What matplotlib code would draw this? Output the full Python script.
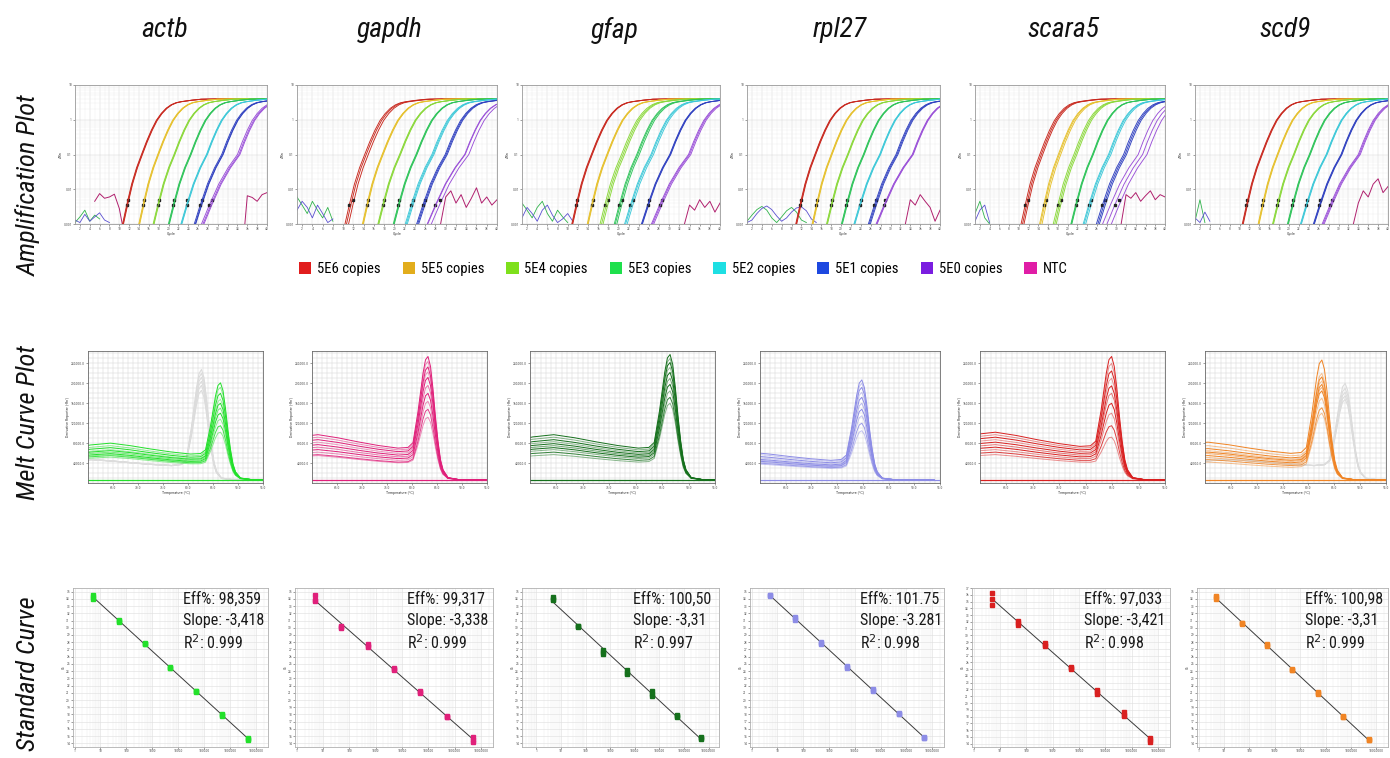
import numpy as np
import matplotlib
matplotlib.use('Agg')
import matplotlib.pyplot as plt
from matplotlib import font_manager
from matplotlib.patches import Patch
from matplotlib.ticker import FixedLocator, NullFormatter, LogLocator, MultipleLocator, FuncFormatter

nan = np.nan

# ---------------- data ----------------
GENES = ['actb', 'gapdh', 'gfap', 'rpl27', 'scara5', 'scd9']
ROW_LABELS = ['Amplification Plot', 'Melt Curve Plot', 'Standard Curve']
LEGEND_LABELS = ['5E6 copies', '5E5 copies', '5E4 copies', '5E3 copies',
                 '5E2 copies', '5E1 copies', '5E0 copies', 'NTC']
LEGEND_COLORS = ['#e11d1d', '#e2ad1c', '#7ee01c', '#1ee04c',
                 '#1edfe3', '#1d48e0', '#7a1de0', '#e01da6']
CURVE_COLORS = ['#c8281e', '#e6c02c', '#8ad83a', '#2fc45a',
                '#3cc8d8', '#2f40c0', '#9a50d8']
GENE_COLORS = ['#22e02a', '#e0207a', '#15701c', '#8c8ce6', '#d92020', '#f08424']
QUANTITIES = [5e0, 5e1, 5e2, 5e3, 5e4, 5e5, 5e6]

# Standard-curve Ct values, rows 5E0 ... 5E6, three replicates each
CT_ACTB = [[34.5, 34.0, 34.3], [31.1, 30.8, 31.0], [27.9, 27.7, 27.8], [24.6, 24.4, 24.5],
           [21.3, 21.1, 21.2], [18.0, 17.8, 17.9], [14.7, 14.5, 14.6]]
CT_GAPDH = [[34.5, 33.7, 33.8], [30.3, 29.9, 30.1], [27.7, 27.3, 27.5], [24.4, 24.2, 24.3],
            [21.2, 21.0, 21.1], [17.8, 17.6, 17.7], [14.9, 14.2, 14.5]]
CT_GFAP = [[34.25, 33.8, 34.0], [30.3, 30.1, 30.2], [26.9, 26.4, 26.6], [24.1, 23.6, 23.8],
           [21.2, 20.6, 20.9], [17.9, 17.7, 17.8], [14.85, 14.65, 14.75]]
CT_RPL27 = [[34.6, 34.4, 34.5], [31.5, 31.1, 31.3], [28.0, 27.8, 27.9], [24.7, 24.5, 24.6],
            [21.5, 21.3, 21.4], [18.2, 18.0, 18.1], [14.9, 14.7, 14.8]]
CT_SCARA5 = [[36.3, 35.4, 34.5], [32.1, 31.5, 31.8], [28.9, 28.4, 28.6], [25.3, 25.1, 25.2],
             [21.9, 21.3, 21.6], [18.6, 18.1, 18.3], [14.9, 14.3, 14.6]]
CT_SCD9 = [[34.4, 34.0, 34.2], [30.7, 30.5, 30.6], [27.7, 27.5, 27.6], [24.3, 24.1, 24.2],
           [21.1, 20.9, 21.0], [17.8, 17.6, 17.7], [14.6, 14.4, 14.5]]
EFF = ['98,359', '99,317', '100,50', '101.75', '97,033', '100,98']
SLOPE = ['-3,418', '-3,338', '-3,31', '-3.281', '-3,421', '-3,31']
R2 = ['0.999', '0.999', '0.997', '0.998', '0.998', '0.999']

# Amplification curve shape: cycle offset from Ct vs log10(dRn)
AMP_DC = [-5, -4, -3, -2, -1, 0, 1, 2, 3, 4, 5, 6, 7, 8, 10, 12, 16, 20, 28]
AMP_LOG = [-4.0, -3.1, -2.45, -1.85, -1.38, -1.0, -0.63, -0.3, -0.02, 0.18, 0.33,
           0.43, 0.49, 0.52, 0.56, 0.59, 0.60, 0.61, 0.61]
# how much wider the pre-threshold rise is for each dilution (5E6 ... 5E0)
AMP_RISE_STRETCH = [1.0, 1.0, 1.1, 1.15, 1.35, 1.45, 1.9]

# NTC traces (cycle, dRn)
NTC_ACTB_CYC = [5, 6, 7, 8, 9, 10, 10.6, nan, 35.5, 36, 37, 38, 39, 40]
NTC_ACTB_VAL = [0.0045, 0.0075, 0.0055, 0.006, 0.0072, 0.0028, 0.001, nan,
                0.001, 0.0065, 0.0058, 0.0045, 0.007, 0.008]
NTC_GAPDH_CYC = [29, 30, 31, 32, 33, 34, 35, 36, 37, 38, 39, 40]
NTC_GAPDH_VAL = [0.001, 0.006, 0.009, 0.004, 0.007, 0.003, 0.0055, 0.011, 0.004, 0.006, 0.0035, 0.005]
NTC_GFAP_CYC = [33, 34, 35, 36, 37, 38, 39, 40]
NTC_GFAP_VAL = [0.001, 0.0035, 0.0025, 0.005, 0.003, 0.0045, 0.0022, 0.004]
NTC_RPL27_CYC = [33, 34, 35, 36, 37, 38, 39, 40]
NTC_RPL27_VAL = [0.001, 0.005, 0.0035, 0.007, 0.0045, 0.003, 0.0012, 0.0025]
NTC_SCARA5_CYC = [31, 32, 33, 34, 35, 36, 37, 38, 39, 40]
NTC_SCARA5_VAL = [0.001, 0.007, 0.0055, 0.008, 0.0045, 0.0065, 0.009, 0.005, 0.007, 0.006]
NTC_SCD9_CYC = [33, 34, 35, 36, 37, 38, 39, 40]
NTC_SCD9_VAL = [0.001, 0.004, 0.009, 0.006, 0.014, 0.02, 0.008, 0.012]

# early-cycle baseline noise (dRn at cycles 1, 2, 3, ...)
NOISE_ACTB_A = [0.0011, 0.0016, 0.0025, 0.0012, 0.0018, 0.0014]
NOISE_ACTB_B = [0.0013, 0.0011, 0.0019, 0.0012, 0.0016, 0.0021, 0.0013, 0.0011]
NOISE_GAPDH_A = [0.006, 0.0035, 0.002, 0.0045, 0.0025, 0.0015, 0.003, 0.0012]
NOISE_GAPDH_B = [0.0025, 0.0045, 0.003, 0.0015, 0.0035, 0.002, 0.0011, 0.0014]
NOISE_GFAP_A = [0.004, 0.0025, 0.0015, 0.003, 0.0045, 0.002, 0.0012, 0.0025, 0.0016, 0.0011]
NOISE_GFAP_B = [0.0015, 0.003, 0.002, 0.0012, 0.0025, 0.0035, 0.0018, 0.0011, 0.0014, 0.002, 0.0012]
NOISE_RPL27_A = [0.0012, 0.0018, 0.0026, 0.0032, 0.0025, 0.0015, 0.0011, 0.0016, 0.0024,
                 0.003, 0.0022, 0.0013, 0.0011]
NOISE_RPL27_B = [0.0011, 0.0013, 0.002, 0.0028, 0.0033, 0.0026, 0.0017, 0.0012, 0.0015,
                 0.0022, 0.0029, 0.0031, 0.0024, 0.0014, 0.0011]
NOISE_SCARA5_A = [0.002, 0.0045, 0.0015, 0.001]
NOISE_SCARA5_B = [0.0012, 0.0025, 0.0035, 0.0011]
NOISE_SCD9_A = [0.0012, 0.005, 0.0011]
NOISE_SCD9_B = [0.0015, 0.0011, 0.0022, 0.0012]

# Melt curve: shapes vs temperature offset from the peak (read from actb)
MELT_DT = [-30, -26, -22, -18, -14, -10, -6, -4, -3, -2, -1.5, -1, -0.5, 0,
           0.5, 1, 1.5, 2, 2.5, 3, 4, 6, 14]
MELT_PEAK_SHAPE = [0, 0, 0, 0, 0, 0, 0, 0.02, 0.08, 0.4, 0.6, 0.8, 0.95, 1.0,
                   0.93, 0.74, 0.5, 0.3, 0.15, 0.07, 0.01, 0, 0]
MELT_BASE_SHAPE = [0.85, 0.95, 1.0, 0.93, 0.84, 0.76, 0.7, 0.67, 0.64, 0.6, 0.57, 0.54,
                   0.5, 0.46, 0.4, 0.33, 0.25, 0.17, 0.1, 0.06, 0.02, 0.0, 0.0]
MELT_FLOOR = 7000
MELT_TPEAK = [86.5, 83.2, 86.5, 79.8, 84.9, 82.6]
MELT_PEAK_ACTB = [201e3, 192e3, 180e3, 168e3, 160e3, 150e3, 140e3, 128e3, 115e3, 102e3]
MELT_BASE_ACTB = [73e3, 68e3, 64e3, 60e3, 58e3, 55e3, 52e3, 50e3, 48e3, 45e3]
MELT_PEAK_GAPDH = [254e3, 244e3, 233e3, 223e3, 212e3, 196e3, 180e3, 164e3, 148e3, 132e3]
MELT_BASE_GAPDH = [90e3, 85e3, 80e3, 75e3, 70e3, 65e3, 60e3, 55e3, 50e3, 48e3]
MELT_PEAK_GFAP = [258e3, 250e3, 242e3, 232e3, 222e3, 210e3, 198e3, 185e3, 172e3, 160e3]
MELT_BASE_GFAP = [90e3, 85e3, 80e3, 76e3, 72e3, 68e3, 64e3, 60e3, 55e3, 50e3]
MELT_PEAK_RPL27 = [207e3, 200e3, 192e3, 182e3, 172e3, 160e3, 148e3, 135e3, 120e3, 105e3]
MELT_BASE_RPL27 = [55e3, 52e3, 48e3, 45e3, 42e3, 40e3, 38e3, 36e3, 34e3, 32e3]
MELT_PEAK_SCARA5 = [254e3, 240e3, 225e3, 210e3, 195e3, 180e3, 160e3, 140e3, 115e3, 92e3]
MELT_BASE_SCARA5 = [95e3, 90e3, 85e3, 80e3, 75e3, 70e3, 65e3, 60e3, 55e3, 50e3]
MELT_PEAK_SCD9 = [247e3, 220e3, 213e3, 205e3, 198e3, 192e3, 185e3, 170e3, 151e3, 140e3]
MELT_BASE_SCD9 = [75e3, 68e3, 62e3, 58e3, 55e3, 52e3, 48e3, 44e3, 40e3, 35e3]
MELT_ALPHA = [1, 0.5, 1, 0.45, 1, 0.6, 1, 0.5, 0.85, 0.5]
# reference (gray) melt curves
GRAY_TPEAK = [82.7, None, None, None, None, 87.1]
GRAY_PEAK_ACTB = [228e3, 220e3, 212e3, 204e3, 196e3, 186e3]
GRAY_PEAK_SCD9 = [200e3, 190e3, 182e3, 175e3, 168e3]

CT = [CT_ACTB, CT_GAPDH, CT_GFAP, CT_RPL27, CT_SCARA5, CT_SCD9]
NTC_CYC = [NTC_ACTB_CYC, NTC_GAPDH_CYC, NTC_GFAP_CYC, NTC_RPL27_CYC, NTC_SCARA5_CYC, NTC_SCD9_CYC]
NTC_VAL = [NTC_ACTB_VAL, NTC_GAPDH_VAL, NTC_GFAP_VAL, NTC_RPL27_VAL, NTC_SCARA5_VAL, NTC_SCD9_VAL]
NOISE_A = [NOISE_ACTB_A, NOISE_GAPDH_A, NOISE_GFAP_A, NOISE_RPL27_A, NOISE_SCARA5_A, NOISE_SCD9_A]
NOISE_B = [NOISE_ACTB_B, NOISE_GAPDH_B, NOISE_GFAP_B, NOISE_RPL27_B, NOISE_SCARA5_B, NOISE_SCD9_B]
MELT_PEAK = [MELT_PEAK_ACTB, MELT_PEAK_GAPDH, MELT_PEAK_GFAP, MELT_PEAK_RPL27, MELT_PEAK_SCARA5, MELT_PEAK_SCD9]
MELT_BASE = [MELT_BASE_ACTB, MELT_BASE_GAPDH, MELT_BASE_GFAP, MELT_BASE_RPL27, MELT_BASE_SCARA5, MELT_BASE_SCD9]
GRAY_PEAK = [GRAY_PEAK_ACTB, None, None, None, None, GRAY_PEAK_SCD9]

# ---------------- layout ----------------
W, H = 1390, 758
AMP_X = [(75, 267), (297, 497), (522, 720), (747, 940), (975, 1165), (1195, 1388)]
AMP_Y = (85, 224)
MELT_X = [(88, 263), (312, 487), (530, 715), (760, 940), (980, 1165), (1205, 1386)]
MELT_Y = (351, 483)
STD_X = [(73, 268), (295, 493), (522, 719), (750, 944), (972, 1170), (1197, 1388)]
STD_Y = (588, 747)
STD_XLIM = [(-0.06, 7.46), (-0.06, 7.46), (-0.58, 7.42), (-0.06, 7.46), (-0.06, 7.46), (-0.06, 7.46)]
STD_YLIM = [(13.5, 35.5), (13.5, 35.5), (13.5, 35.5), (13.5, 35.5), (13.5, 37.0), (13.5, 35.5)]
COL_CENTER = [165, 390, 615, 840, 1063, 1285]
ROW_CENTER = [185, 422, 674]

avail = {f.name for f in font_manager.fontManager.ttflist}
NARROW = 'DejaVu Sans'
for cand in ['Liberation Sans Narrow', 'Roboto Condensed', 'Open Sans Condensed', 'Roboto']:
    if cand in avail:
        NARROW = cand
        break
plt.rcParams['font.family'] = [NARROW, 'DejaVu Sans']

fig = plt.figure(figsize=(W / 100, H / 100), dpi=100)
fig.patch.set_facecolor('white')


def px_axes(x, y):
    x0, x1 = x
    y0, y1 = y
    return fig.add_axes([x0 / W, 1 - y1 / H, (x1 - x0) / W, (y1 - y0) / H])


TICK_FS = 2.6


def style(ax, spine='#9a9a9a'):
    for s in ax.spines.values():
        s.set_color(spine)
        s.set_linewidth(0.6)
    ax.tick_params(axis='both', which='both', labelsize=TICK_FS, length=1.2, width=0.4,
                   pad=1, colors='#555555')
    ax.tick_params(which='minor', length=0)


# column titles / row labels
for gi, g in enumerate(GENES):
    fig.text(COL_CENTER[gi] / W, 1 - 30 / H, g, ha='center', va='center',
             fontsize=20, style='italic', color='#111111')
for ri, lab in enumerate(ROW_LABELS):
    fig.text(28 / W, 1 - ROW_CENTER[ri] / H, lab, ha='center', va='center', rotation=90,
             fontsize=19, style='italic', color='#111111')

# ---------------- amplification row ----------------
mark_idx = AMP_DC.index(-3)
dc = np.array(AMP_DC, dtype=float)
for gi, g in enumerate(GENES):
    ax = px_axes(AMP_X[gi], AMP_Y)
    ax.set_yscale('log')
    ax.set_xlim(1, 40)
    ax.set_ylim(0.001, 10)
    ax.xaxis.set_major_locator(MultipleLocator(2))
    ax.xaxis.set_minor_locator(MultipleLocator(1))
    ax.yaxis.set_major_locator(FixedLocator([0.001, 0.01, 0.1, 1, 10]))
    ax.set_yticklabels(['0.001', '0.01', '0.1', '1', '10'])
    ax.yaxis.set_minor_locator(LogLocator(base=10, subs=np.arange(2, 10) * 1.0))
    ax.yaxis.set_minor_formatter(NullFormatter())
    ax.grid(True, which='minor', color='#ececec', lw=0.3)
    ax.grid(True, which='major', color='#d6d6d6', lw=0.35)
    ax.set_axisbelow(True)
    style(ax)
    ax.set_xlabel('Cycle', fontsize=3, labelpad=0.5, color='#444444')
    ax.set_ylabel('ΔRn', fontsize=3, labelpad=0.5, color='#444444')
    # baseline noise
    ax.plot(np.arange(1, len(NOISE_A[gi]) + 1), NOISE_A[gi], color='#2fb34a', lw=0.6)
    ax.plot(np.arange(1, len(NOISE_B[gi]) + 1), NOISE_B[gi], color='#5a4fd0', lw=0.6)
    ax.plot(NTC_CYC[gi], NTC_VAL[gi], color='#b0206e', lw=0.7)
    cts = CT[gi]
    for di in range(7):
        row = cts[6 - di]
        s = AMP_RISE_STRETCH[di]
        for r, c in enumerate(row):
            xs = c + np.where(dc < 0, dc * s, dc)
            ys = 10 ** np.array(AMP_LOG)
            ax.plot(xs, ys, color=CURVE_COLORS[di], lw=0.65)
            if r < 2:
                ax.plot(xs[mark_idx], ys[mark_idx] * (1.35 if r == 0 else 1.0), 's',
                        ms=1.5, color='#222222')

# legend
handles = [Patch(facecolor=c, edgecolor='none') for c in LEGEND_COLORS]
fig.legend(handles, LEGEND_LABELS, loc='center', bbox_to_anchor=(683 / W, 1 - 269 / H),
           ncol=8, frameon=False, fontsize=10.5, handlelength=0.85, handleheight=0.85,
           handletextpad=0.4, columnspacing=1.5, borderpad=0)

# ---------------- melt row ----------------
dt = np.array(MELT_DT)
pshape = np.array(MELT_PEAK_SHAPE)
bshape = np.array(MELT_BASE_SHAPE)
base_at_peak = MELT_BASE_SHAPE[MELT_DT.index(0)]
for gi, g in enumerate(GENES):
    ax = px_axes(MELT_X[gi], MELT_Y)
    ax.set_xlim(60, 95)
    ax.set_ylim(0, 265000)
    ax.xaxis.set_major_locator(FixedLocator([65, 70, 75, 80, 85, 90, 95]))
    ax.set_xticklabels(['%.1f' % v for v in [65, 70, 75, 80, 85, 90, 95]])
    ax.xaxis.set_minor_locator(MultipleLocator(1))
    ax.yaxis.set_major_locator(FixedLocator([40000, 80000, 120000, 160000, 200000, 240000]))
    ax.set_yticklabels(['%.1f' % v for v in [40000, 80000, 120000, 160000, 200000, 240000]])
    ax.yaxis.set_minor_locator(MultipleLocator(10000))
    ax.grid(True, which='both', color='#d4d4d4', lw=0.35)
    ax.set_axisbelow(True)
    style(ax, spine='#6a6a6a')
    ax.set_xlabel('Temperature (°C)', fontsize=3, labelpad=0.5, color='#444444')
    ax.set_ylabel("Derivative Reporter (-Rn')", fontsize=3, labelpad=0.5, color='#444444')
    if GRAY_PEAK[gi] is not None:
        for pk in GRAY_PEAK[gi]:
            amp = pk - MELT_FLOOR - 40000 * base_at_peak
            ys = MELT_FLOOR + 40000 * bshape + amp * pshape
            ax.plot(GRAY_TPEAK[gi] + dt, ys, color='#dcdcdc', lw=0.8)
    col = GENE_COLORS[gi]
    ax.plot([60, 95], [MELT_FLOOR, MELT_FLOOR], color=col, lw=0.9)
    for k, (pk, bs) in enumerate(zip(MELT_PEAK[gi], MELT_BASE[gi])):
        amp = pk - MELT_FLOOR - bs * base_at_peak
        ys = MELT_FLOOR + bs * bshape + amp * pshape
        ax.plot(MELT_TPEAK[gi] + dt, ys, color=col, lw=0.7, alpha=MELT_ALPHA[k])

# ---------------- standard curve row ----------------
logq = np.log10(QUANTITIES)
for gi, g in enumerate(GENES):
    ax = px_axes(STD_X[gi], STD_Y)
    ax.set_xscale('log')
    ax.set_xlim(10 ** STD_XLIM[gi][0], 10 ** STD_XLIM[gi][1])
    ax.set_ylim(*STD_YLIM[gi])
    ax.xaxis.set_major_locator(LogLocator(base=10, numticks=12))
    ax.xaxis.set_minor_locator(LogLocator(base=10, subs=np.arange(2, 10) * 1.0, numticks=12))
    ax.xaxis.set_minor_formatter(NullFormatter())
    ax.xaxis.set_major_formatter(FuncFormatter(lambda v, p: '%d' % round(v)))
    ax.yaxis.set_major_locator(MultipleLocator(1))
    ax.grid(True, which='minor', color='#ededed', lw=0.35)
    ax.grid(True, which='major', color='#dedede', lw=0.4)
    ax.set_axisbelow(True)
    style(ax, spine='#b0b0b0')
    ax.tick_params(axis='x', pad=0.5)
    ax.set_ylabel('Ct', fontsize=3, labelpad=0.5, color='#444444')
    cts = np.array(CT[gi])
    xs_all = np.repeat(QUANTITIES, cts.shape[1])
    ys_all = cts.ravel()
    slope, icpt = np.polyfit(np.log10(xs_all), ys_all, 1)
    ax.plot([QUANTITIES[0], QUANTITIES[-1]],
            [icpt + slope * logq[0], icpt + slope * logq[-1]], color='#3a3a3a', lw=0.7, zorder=2)
    ax.plot(xs_all, ys_all, 's', ms=2.2, color=GENE_COLORS[gi], mec=GENE_COLORS[gi], zorder=3)
    for txt, yy in zip(['Eff%: ' + EFF[gi], 'Slope: ' + SLOPE[gi], 'R$^2$: ' + R2[gi]],
                       [0.975, 0.845, 0.715]):
        ax.text(0.565, yy, txt, transform=ax.transAxes, fontsize=11.5,
                va='top', ha='left', color='#1a1a1a')

fig.savefig('out.png', dpi=100, facecolor='white')
